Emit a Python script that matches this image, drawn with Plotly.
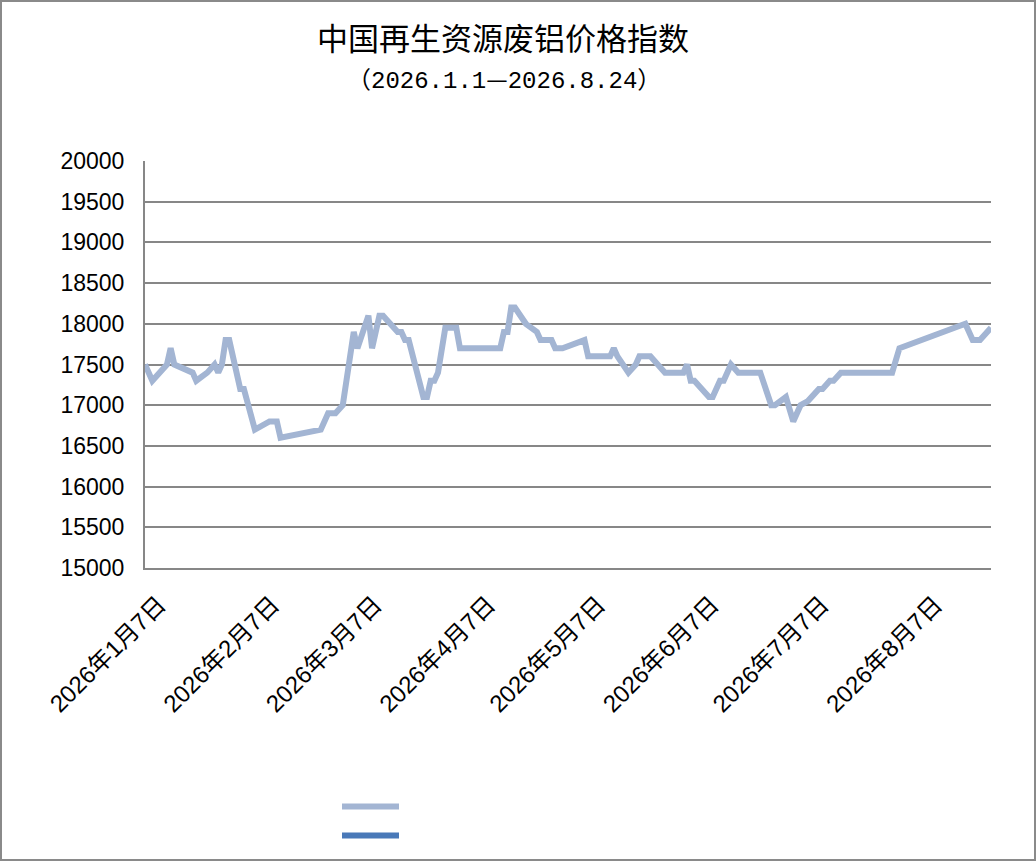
import plotly.graph_objects as go

dates = [
    "2026-01-07", "2026-01-09", "2026-01-13", "2026-01-14", "2026-01-15", "2026-01-18",
    "2026-01-20", "2026-01-21", "2026-01-24", "2026-01-26", "2026-01-27", "2026-01-28",
    "2026-01-29", "2026-01-30", "2026-02-02", "2026-02-03", "2026-02-06", "2026-02-10",
    "2026-02-12", "2026-02-13", "2026-02-24", "2026-02-26", "2026-02-28", "2026-03-02",
    "2026-03-05", "2026-03-06", "2026-03-09", "2026-03-10", "2026-03-12", "2026-03-13",
    "2026-03-17", "2026-03-18", "2026-03-19", "2026-03-20", "2026-03-24", "2026-03-25",
    "2026-03-26", "2026-03-27", "2026-03-28", "2026-03-30", "2026-04-02", "2026-04-03",
    "2026-04-14", "2026-04-15", "2026-04-16", "2026-04-17", "2026-04-18", "2026-04-21",
    "2026-04-24", "2026-04-25", "2026-04-28", "2026-04-29", "2026-05-01", "2026-05-07",
    "2026-05-08", "2026-05-14", "2026-05-15", "2026-05-16", "2026-05-19", "2026-05-21",
    "2026-05-22", "2026-05-25", "2026-05-27", "2026-05-29", "2026-06-03", "2026-06-04",
    "2026-06-05", "2026-06-06", "2026-06-10", "2026-06-11", "2026-06-13", "2026-06-14",
    "2026-06-16", "2026-06-18", "2026-06-24", "2026-06-27", "2026-06-28", "2026-07-01",
    "2026-07-03", "2026-07-05", "2026-07-07", "2026-07-08", "2026-07-10", "2026-07-11",
    "2026-07-13", "2026-07-14", "2026-07-16", "2026-07-30", "2026-08-01", "2026-08-19",
    "2026-08-21", "2026-08-23", "2026-08-26",
]
values = [
    17500, 17300, 17500, 17700, 17500, 17450,
    17400, 17300, 17400, 17500, 17400, 17500,
    17800, 17800, 17200, 17200, 16700, 16800,
    16800, 16600, 16700, 16900, 16900, 17000,
    17900, 17700, 18100, 17700, 18100, 18100,
    17900, 17900, 17800, 17800, 17100, 17100,
    17300, 17300, 17400, 17950, 17950, 17700,
    17700, 17900, 17900, 18200, 18200, 18000,
    17900, 17800, 17800, 17700, 17700, 17800,
    17600, 17600, 17700, 17600, 17400, 17500,
    17600, 17600, 17500, 17400, 17400, 17500,
    17300, 17300, 17100, 17100, 17300, 17300,
    17500, 17400, 17400, 17000, 17000, 17100,
    16800, 17000, 17050, 17100, 17200, 17200,
    17300, 17300, 17400, 17400, 17700, 18000,
    17800, 17800, 17950,
]
tick_dates = ["2026-01-07", "2026-02-07", "2026-03-07", "2026-04-07",
              "2026-05-07", "2026-06-07", "2026-07-07", "2026-08-07"]
tick_labels = ["2026年1月7日", "2026年2月7日", "2026年3月7日", "2026年4月7日",
               "2026年5月7日", "2026年6月7日", "2026年7月7日", "2026年8月7日"]
y_ticks = [15000, 15500, 16000, 16500, 17000, 17500, 18000, 18500, 19000, 19500, 20000]
y_tick_labels = [str(v) for v in y_ticks]

title_text = "中国再生资源废铝价格指数"
subtitle_start = "2026.1.1"
subtitle_end = "2026.8.24"

W, H = 1036, 861
L, R, T, B = 145, 45, 161, 293
pw, ph = W - L - R, H - T - B

fig = go.Figure()
fig.add_trace(go.Scatter(x=dates, y=values, mode="lines", name=" ",
                         line=dict(color="#a3b5d3", width=6), hoverinfo="skip"))
fig.add_trace(go.Scatter(x=[dates[0]], y=[None], mode="lines", name=" ",
                         line=dict(color="#4979b8", width=6), hoverinfo="skip"))

cjk = "Noto Sans CJK SC"
subtitle_html = (f"<span style='font-family:{cjk}'>（</span>{subtitle_start}"
                 f"<span style='font-family:{cjk}'>—</span>{subtitle_end}"
                 f"<span style='font-family:{cjk}'>）</span>")

grid_color = "#878787"
fig.update_layout(
    width=W, height=H,
    margin=dict(l=L, r=R, t=T, b=B, autoexpand=False),
    paper_bgcolor="white", plot_bgcolor="white",
    font=dict(family="Liberation Sans, Noto Sans CJK SC", color="black"),
    showlegend=True,
    legend=dict(x=(337 - L) / pw, y=(568 - 787) / ph, xanchor="left", yanchor="top",
                orientation="v", font=dict(size=20), itemwidth=57,
                bgcolor="rgba(0,0,0,0)"),
    xaxis=dict(type="date", range=["2026-01-07", "2026-08-26"],
               tickvals=tick_dates, ticktext=tick_labels, tickangle=-45,
               tickfont=dict(size=24, family="Liberation Sans, Noto Sans CJK SC"),
               showgrid=False, showline=True, linecolor=grid_color, linewidth=2,
               ticks="", zeroline=False, ticklabelstandoff=11, ticklabelshift=14),
    yaxis=dict(range=[15000, 20000], tickvals=y_ticks, ticktext=y_tick_labels,
               tickfont=dict(size=23, family="Liberation Sans"),
               showgrid=True, gridcolor=grid_color, gridwidth=2,
               showline=True, linecolor=grid_color, linewidth=2,
               ticks="", zeroline=False, ticklabelstandoff=14),
    annotations=[
        dict(text=title_text, x=(503 - L) / pw, y=(568 - 37) / ph, xref="paper", yref="paper",
             showarrow=False, font=dict(size=31, family=cjk, color="black"),
             xanchor="center", yanchor="middle"),
        dict(text=subtitle_html, x=(504 - L) / pw, y=(568 - 78) / ph, xref="paper", yref="paper",
             showarrow=False, font=dict(size=24, family="Liberation Mono, " + cjk, color="black"),
             xanchor="center", yanchor="middle"),
    ],
    shapes=[
        dict(type="rect", xref="paper", yref="paper",
             x0=(1 - L) / pw, x1=(W - 1 - L) / pw, y0=(568 - (H - 1)) / ph, y1=(568 - 1) / ph,
             line=dict(color="#8a8a8a", width=2), fillcolor="rgba(0,0,0,0)", layer="below"),
    ],
)

fig.write_html("out.html", config={"displayModeBar": False},
               post_script="document.body.style.margin='0';document.body.style.overflow='hidden';")
